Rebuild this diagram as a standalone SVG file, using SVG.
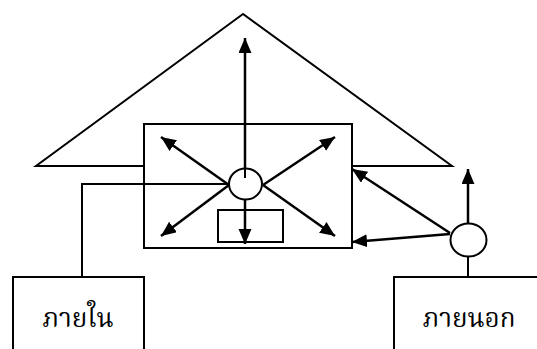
<svg xmlns="http://www.w3.org/2000/svg" width="537" height="349" viewBox="0 0 537 349">
<style>
.ln{fill:none;stroke:#000;stroke-width:2}
.box{fill:#fff;stroke:#000;stroke-width:2}
.ar{fill:none;stroke:#000;stroke-width:2.5;marker-end:url(#ah)}
.lbl{font-family:"Noto Serif Thai","Noto Sans Thai","Liberation Serif",serif;font-size:26px;fill:#000}
</style>
<defs>
<marker id="ah" markerUnits="userSpaceOnUse" markerWidth="16" markerHeight="14" refX="15" refY="6.5" orient="auto">
<path d="M0,0 L15,6.5 L0,13 z" fill="#000"/>
</marker>
</defs>
<rect width="537" height="349" fill="#fff"/>
<g id="triangle">
<polygon class="ln" points="243,14 36,166 452,166"/>
</g>
<g id="center-box">
<rect class="box" x="144" y="124" width="208" height="124"/>
</g>
<g id="inner-box">
<rect class="ln" x="218" y="210" width="65" height="32"/>
</g>
<g id="internal">
<rect class="box" x="13" y="277" width="131" height="90"/>
<text class="lbl" x="78" y="327" text-anchor="middle">ภายใน</text>
</g>
<g id="external">
<rect class="box" x="394" y="277" width="160" height="90"/>
<text class="lbl" x="469" y="327" text-anchor="middle">ภายนอก</text>
</g>
<g id="connectors">
<polyline class="ln" points="229,184 82,184 82,277"/>
<line class="ar" x1="245" y1="178" x2="245" y2="38"/>
<line class="ar" x1="245" y1="200" x2="245" y2="244"/>
<line class="ar" x1="229" y1="185" x2="161" y2="137"/>
<line class="ar" x1="229" y1="185" x2="161" y2="236"/>
<line class="ar" x1="263" y1="185" x2="335" y2="137"/>
<line class="ar" x1="263" y1="185" x2="335" y2="236"/>
<line class="ln" x1="468" y1="256" x2="468" y2="277"/>
<line class="ar" x1="468" y1="223" x2="468" y2="169"/>
<line class="ar" x1="450" y1="233" x2="352" y2="169"/>
<line class="ar" x1="450" y1="234" x2="352" y2="242"/>
</g>
<g id="hub-circle">
<ellipse class="box" cx="245.5" cy="184" rx="16.5" ry="15.5"/>
<line class="ln" x1="245" y1="168" x2="245" y2="178"/>
</g>
<g id="ext-circle">
<ellipse class="box" cx="468.5" cy="240" rx="18" ry="16.5"/>
</g>
</svg>
